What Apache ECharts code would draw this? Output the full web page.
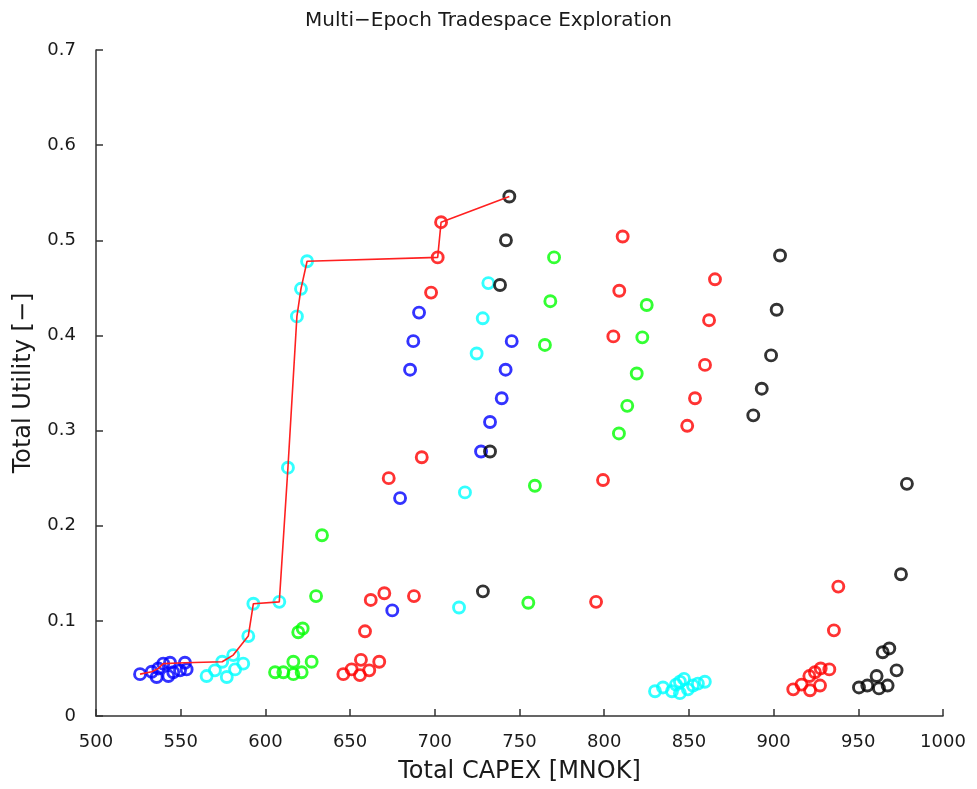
<!DOCTYPE html>
<html>
<head>
<meta charset="utf-8">
<title>Multi−Epoch Tradespace Exploration</title>
<script src="https://cdn.jsdelivr.net/npm/echarts@6/dist/echarts.min.js"></script>
<style>
  html, body { margin: 0; padding: 0; background: #fff; }
  #chart { width: 977px; height: 789px; }
</style>
</head>
<body>
<div id="chart"></div>
<script>
// Design groups: [Total CAPEX (MNOK), Total Utility]
const bluePts = [
  [526.0, 0.044], [532.9, 0.0465], [535.8, 0.041], [536.8, 0.050], [539.7, 0.055],
  [542.7, 0.042], [543.7, 0.056], [545.6, 0.046], [549.6, 0.048], [552.5, 0.056],
  [553.5, 0.049],
  [674.9, 0.111], [679.5, 0.229], [685.4, 0.364], [687.3, 0.394], [690.7, 0.424],
  [727.3, 0.278], [732.6, 0.309], [739.5, 0.334], [741.8, 0.364], [745.4, 0.394]
];
const cyanPts = [
  [565.3, 0.042], [570.2, 0.048], [574.5, 0.057], [577.2, 0.041], [581.0, 0.064],
  [582.1, 0.049], [586.9, 0.055], [589.9, 0.084], [592.9, 0.118], [608.2, 0.120],
  [613.3, 0.261], [618.6, 0.420], [621.0, 0.449], [624.6, 0.478],
  [714.3, 0.114], [717.8, 0.235], [724.7, 0.381], [728.3, 0.418], [731.6, 0.455],
  [830.0, 0.026], [834.7, 0.030], [840.0, 0.026], [842.4, 0.033], [844.7, 0.036],
  [847.1, 0.039], [844.7, 0.024], [849.4, 0.028], [852.4, 0.032], [855.3, 0.034],
  [859.4, 0.036]
];
const greenPts = [
  [605.7, 0.046], [610.6, 0.046], [616.5, 0.044], [616.5, 0.057], [621.4, 0.046],
  [627.3, 0.057], [619.4, 0.088], [622.0, 0.092], [629.9, 0.126], [633.4, 0.190],
  [755.2, 0.119], [759.1, 0.242], [765.0, 0.390], [768.2, 0.436], [770.4, 0.482],
  [808.7, 0.297], [813.6, 0.326], [819.2, 0.360], [822.5, 0.398], [825.1, 0.432]
];
const redPts = [
  [646.0, 0.044], [650.9, 0.049], [656.4, 0.059], [655.8, 0.043], [661.3, 0.048],
  [667.2, 0.057], [658.8, 0.089], [662.2, 0.122], [670.2, 0.129], [687.7, 0.126],
  [672.8, 0.250], [692.3, 0.272], [697.8, 0.445], [701.7, 0.482], [703.7, 0.519],
  [795.2, 0.120], [799.3, 0.248], [805.4, 0.399], [808.9, 0.447], [810.9, 0.504],
  [849.0, 0.305], [853.6, 0.334], [859.5, 0.369], [861.9, 0.416], [865.4, 0.459],
  [911.6, 0.028], [916.5, 0.033], [921.5, 0.027], [921.1, 0.042], [924.4, 0.046],
  [927.4, 0.032], [927.8, 0.050], [932.9, 0.049], [935.6, 0.090], [938.2, 0.136]
];
const blackPts = [
  [728.4, 0.131], [732.6, 0.278], [738.5, 0.453], [742.0, 0.500], [744.0, 0.546],
  [888.0, 0.316], [893.0, 0.344], [898.5, 0.379], [901.8, 0.427], [903.8, 0.484],
  [950.4, 0.030], [955.3, 0.032], [960.8, 0.042], [962.2, 0.029], [967.3, 0.032],
  [964.4, 0.067], [968.3, 0.071], [972.6, 0.048], [975.2, 0.149], [978.7, 0.244]
];

// Pareto front through the non-dominated designs
const paretoCapex = [526.0, 532.9, 536.8, 539.7, 552.5, 574.5, 581.0, 589.9, 592.9, 608.2,
                     613.3, 618.6, 621.0, 624.6, 701.7, 703.7, 744.0];
const paretoUtility = [0.044, 0.0465, 0.050, 0.055, 0.056, 0.057, 0.064, 0.084, 0.118, 0.120,
                       0.261, 0.420, 0.449, 0.478, 0.482, 0.519, 0.546];

// Axis ticks
const xTicks = [500, 550, 600, 650, 700, 750, 800, 850, 900, 950, 1000];
const xTickLabels = ['500', '550', '600', '650', '700', '750', '800', '850', '900', '950', '1000'];
const yTicks = [0, 0.1, 0.2, 0.3, 0.4, 0.5, 0.6, 0.7];
const yTickLabels = ['0', '0.1', '0.2', '0.3', '0.4', '0.5', '0.6', '0.7'];

const FONT = 'DejaVu Sans, Verdana, sans-serif';
const AXIS_COLOR = '#333333';
const TEXT_COLOR = '#1a1a1a';

function tickText(ticks, labels) {
  return function (v) {
    const i = ticks.findIndex(t => Math.abs(t - v) < 1e-9);
    return i >= 0 ? labels[i] : '';
  };
}

function ring(name, data, color) {
  return {
    name: name,
    type: 'scatter',
    data: data,
    symbol: 'circle',
    symbolSize: 11,
    itemStyle: { color: 'rgba(0,0,0,0)', borderColor: color, borderWidth: 2.9 },
    emphasis: { disabled: true },
    z: 2
  };
}

const chart = echarts.init(document.getElementById('chart'), null, { renderer: 'canvas' });
chart.setOption({
  animation: false,
  backgroundColor: '#ffffff',
  title: {
    text: 'Multi−Epoch Tradespace Exploration',
    left: 'center',
    top: 6,
    textStyle: { fontFamily: FONT, fontSize: 20, fontWeight: 'normal', color: TEXT_COLOR }
  },
  grid: { left: 96, right: 34, top: 50, bottom: 72 },
  xAxis: {
    type: 'value',
    min: xTicks[0],
    max: xTicks[xTicks.length - 1],
    interval: xTicks[1] - xTicks[0],
    name: 'Total CAPEX [MNOK]',
    nameLocation: 'middle',
    nameGap: 44,
    nameTextStyle: { fontFamily: FONT, fontSize: 24, color: TEXT_COLOR },
    axisLine: { lineStyle: { color: AXIS_COLOR, width: 1.5 } },
    axisTick: { inside: true, length: 7, lineStyle: { color: AXIS_COLOR, width: 1.5 } },
    axisLabel: {
      fontFamily: FONT, fontSize: 18, color: TEXT_COLOR, margin: 17,
      formatter: tickText(xTicks, xTickLabels)
    },
    splitLine: { show: false }
  },
  yAxis: {
    type: 'value',
    min: yTicks[0],
    max: yTicks[yTicks.length - 1],
    interval: 0.1,
    name: 'Total Utility [−]',
    nameLocation: 'middle',
    nameGap: 60,
    nameRotate: 90,
    nameTextStyle: { fontFamily: FONT, fontSize: 24, color: TEXT_COLOR },
    axisLine: { show: true, lineStyle: { color: AXIS_COLOR, width: 1.5 } },
    axisTick: { show: true, inside: true, length: 7, lineStyle: { color: AXIS_COLOR, width: 1.5 } },
    axisLabel: {
      fontFamily: FONT, fontSize: 18, color: TEXT_COLOR, margin: 20,
      formatter: tickText(yTicks, yTickLabels)
    },
    splitLine: { show: false }
  },
  series: [
    ring('Blue', bluePts, '#0000ff'),
    ring('Cyan', cyanPts, '#00ffff'),
    ring('Green', greenPts, '#00ff00'),
    ring('Red', redPts, '#ff0000'),
    ring('Black', blackPts, '#000000'),
    {
      name: 'Pareto',
      type: 'line',
      data: paretoCapex.map((x, i) => [x, paretoUtility[i]]),
      symbol: 'none',
      lineStyle: { color: '#ff2020', width: 1.6 },
      emphasis: { disabled: true },
      z: 3
    }
  ]
});
</script>
</body>
</html>
